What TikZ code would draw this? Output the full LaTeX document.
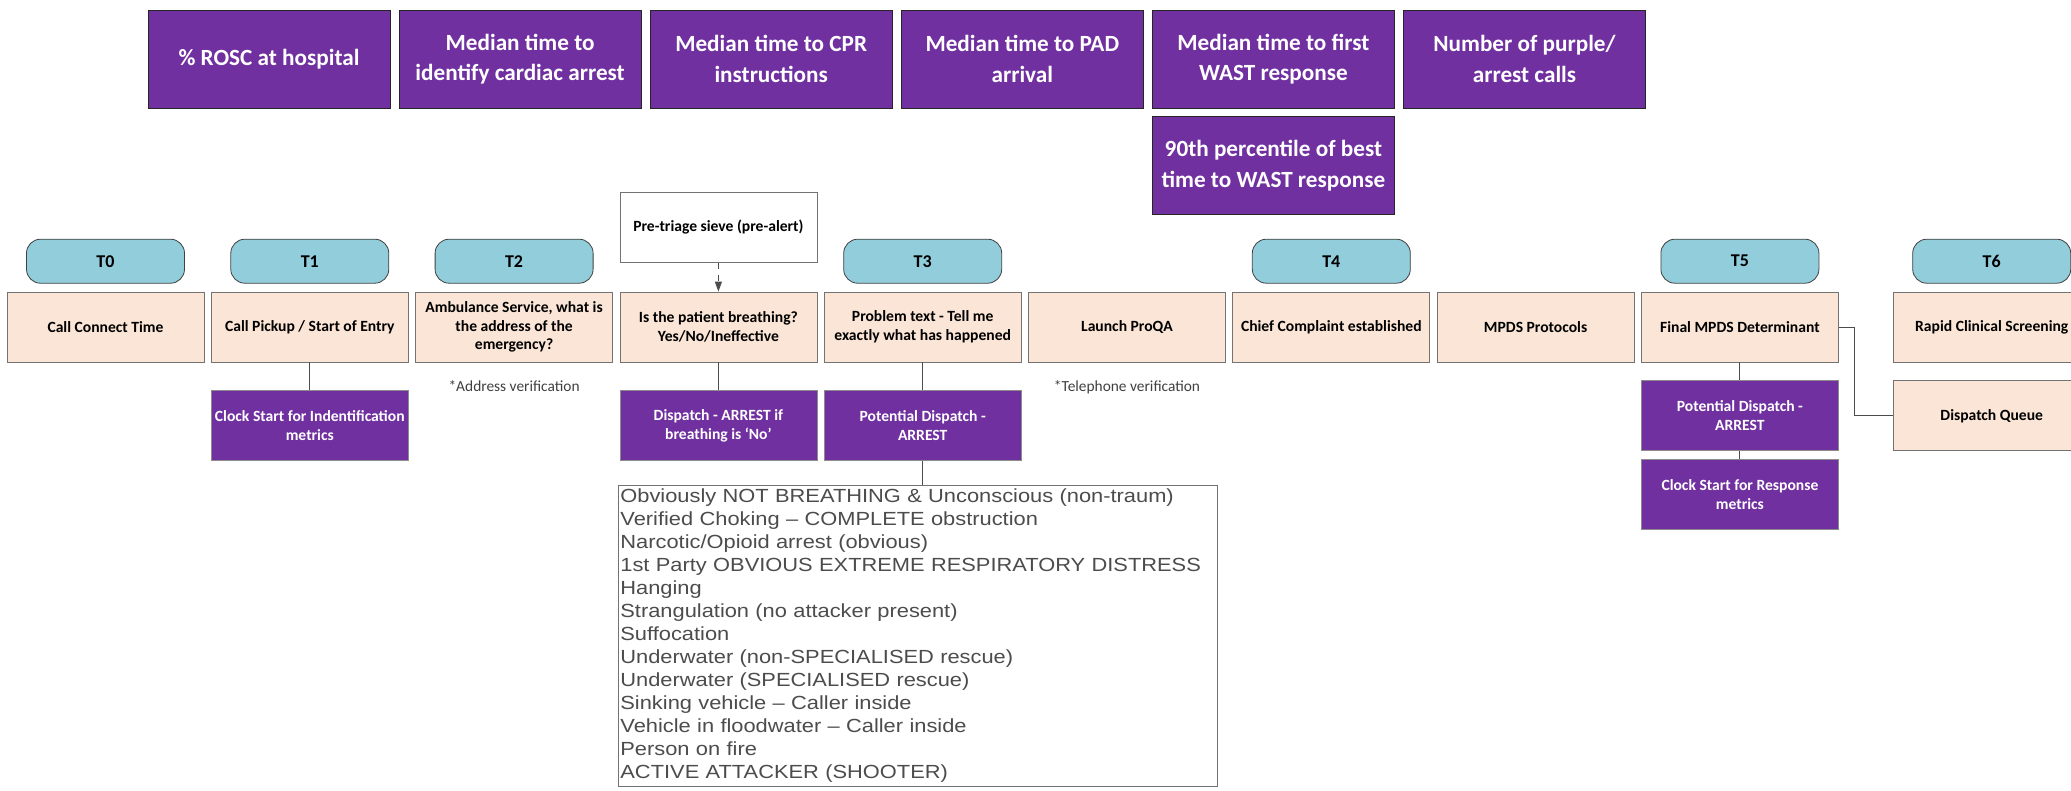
\documentclass[tikz,border=0pt]{standalone}
\usepackage{fontspec}
\setmainfont{Carlito}
\newfontfamily\listfont{Liberation Sans}[FakeStretch=1.15]
\usetikzlibrary{arrows.meta, positioning}
\definecolor{arrestpurple}{HTML}{7030A0}
\definecolor{stampblue}{HTML}{92CDDC}
\definecolor{steppeach}{HTML}{FBE5D6}

\begin{document}
\begin{tikzpicture}[x=0.5pt, y=-0.5pt,
                    metric/.style={rectangle, fill=arrestpurple, draw=black!85, text=white, font=\bfseries\fontsize{11.6}{15.2}\selectfont, minimum width=121pt, minimum height=49pt, align=center, inner sep=0pt},
                    stamp/.style={rectangle, rounded corners=7pt, fill=stampblue, draw=black!75, font=\bfseries\fontsize{9}{11}\selectfont, minimum width=79pt, minimum height=22pt, inner sep=0pt},
                    stepbox/.style={rectangle, fill=steppeach, draw=black!55, font=\bfseries\fontsize{7.8}{9.3}\selectfont, minimum width=98.5pt, minimum height=35pt, align=center, inner sep=0pt},
                    flag/.style={stepbox, fill=arrestpurple, draw=black!45, text=white},
                    sieve/.style={stepbox, fill=white},
                    remark/.style={font=\fontsize{7.7}{9}\selectfont, text=black!75, inner sep=0pt},
                    causelist/.style={rectangle, draw=black!55, fill=white, anchor=north west, align=left, text width=297.5pt, minimum height=150.5pt, inner xsep=1pt, inner ysep=1.8pt, text=black!70, font=\listfont\fontsize{9.5}{11.5}\selectfont},
                    link/.style={draw=black!70, line width=0.5pt}]
                    \path[use as bounding box, fill=white] (0,0) rectangle (2071,791);
                    % metrics
                    \node[metric](rosc) at (269,59){\% ROSC at hospital};
                    \node[metric, right=4.15pt of rosc](identify){Median time to\\identify cardiac arrest};
                    \node[metric, right=4.15pt of identify](cpr){Median time to CPR\\instructions};
                    \node[metric, right=4.15pt of cpr](pad){Median time to PAD\\arrival};
                    \node[metric, right=4.15pt of pad](wast){Median time to first\\WAST response};
                    \node[metric, right=4.15pt of wast](calls){Number of purple/\\arrest calls};
                    \node[metric, below=4pt of wast](percentile){90th percentile of best\\time to WAST response};
                    % call steps
                    \node[stepbox](connect) at (105.5,327){Call Connect Time};
                    \node[stepbox, right=3.25pt of connect](pickup){Call Pickup / Start of Entry};
                    \node[stepbox, right=3.25pt of pickup](ambulance){Ambulance Service, what is\\the address of the\\emergency?};
                    \node[stepbox, right=3.25pt of ambulance](breathing){Is the patient breathing?\\Yes/No/Ineffective};
                    \node[stepbox, right=3.25pt of breathing](problem){Problem text - Tell me\\exactly what has happened};
                    \node[stepbox, right=3.25pt of problem](proqa){Launch ProQA};
                    \node[stepbox, right=3.25pt of proqa](complaint){Chief Complaint established};
                    \node[stepbox, right=3.25pt of complaint](protocols){MPDS Protocols};
                    \node[stepbox, right=3.25pt of protocols](final){Final MPDS Determinant};
                    \node[stepbox, right=27pt of final](screening){Rapid Clinical Screening};
                    \node[stepbox, below=9pt of screening](queue){Dispatch Queue};
                    % time stamps
                    \node[stamp, above=4pt of connect](t0){T0};
                    \node[stamp, above=4pt of pickup](t1){T1};
                    \node[stamp, above=4pt of ambulance](t2){T2};
                    \node[stamp, above=4pt of problem](t3){T3};
                    \node[stamp, above=4pt of complaint](t4){T4};
                    \node[stamp, above=4pt of final](t5){T5};
                    \node[stamp, above=4pt of screening](t6){T6};
                    \node[sieve, above=14.5pt of breathing](pretriage){Pre-triage sieve (pre-alert)};
                    % purple flags
                    \node[flag, below=14pt of pickup](clockid){Clock Start for Indentification\\metrics};
                    \node[flag, below=14pt of breathing](dispatchno){Dispatch - ARREST if\\breathing is `No'};
                    \node[flag, below=14pt of problem](potential){Potential Dispatch -\\ARREST};
                    \node[flag, below=9pt of final](finalarrest){Potential Dispatch -\\ARREST};
                    \node[flag, below=4pt of finalarrest](clockresp){Clock Start for Response\\metrics};
                    \node[remark, below=9pt of ambulance](addrcheck){*Address verification};
                    \node[remark, below=9pt of proqa](phonecheck){*Telephone verification};
                    \node[causelist](causes) at (618,485){Obviously NOT BREATHING \& Unconscious (non-traum)\\
                        Verified Choking – COMPLETE obstruction\\
                        Narcotic/Opioid arrest (obvious)\\
                        1st Party OBVIOUS EXTREME RESPIRATORY DISTRESS\\
                        Hanging\\
                        Strangulation (no attacker present)\\
                        Suffocation\\
                        Underwater (non-SPECIALISED rescue)\\
                        Underwater (SPECIALISED rescue)\\
                        Sinking vehicle – Caller inside\\
                        Vehicle in floodwater – Caller inside\\
                        Person on fire\\
                        ACTIVE ATTACKER (SHOOTER)};
                    \draw[link, dashed, -{Triangle[length=5pt, width=3.5pt]}] (pretriage) -- (breathing);
                    \draw[link] (pickup) -- (clockid);
                    \draw[link] (breathing) -- (dispatchno);
                    \draw[link] (problem) -- (potential);
                    \draw[link] (potential) -- (potential |- causes.north);
                    \draw[link] (final) -- (finalarrest);
                    \draw[link] (finalarrest) -- (clockresp);
                    \draw[link] (final.east) -- ++(8pt,0) |- (queue.west);
                \end{tikzpicture}
\end{document}
